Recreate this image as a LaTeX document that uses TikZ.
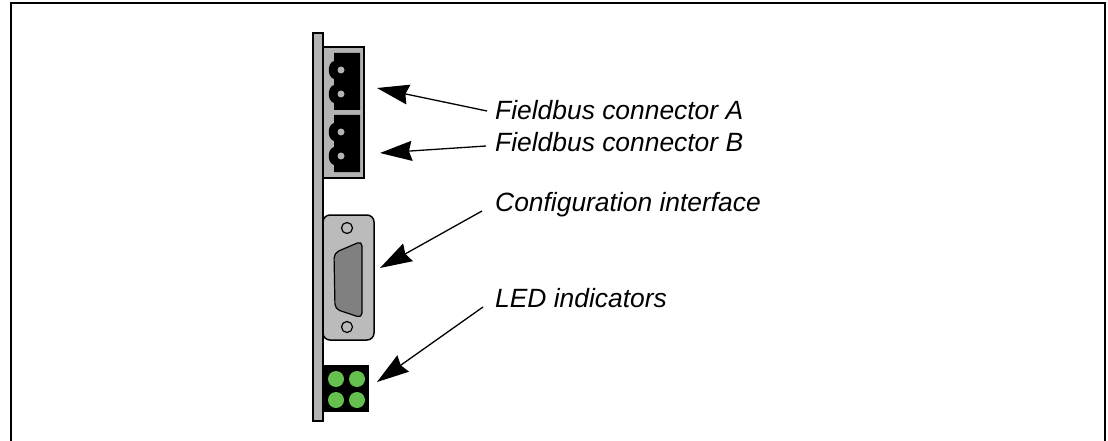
\documentclass[tikz,border=0pt]{standalone}
\usepackage{fontspec}
\setmainfont{Liberation Sans}
\usetikzlibrary{arrows.meta}
\definecolor{ledgreen}{HTML}{66C04F}
\definecolor{panelgray}{HTML}{B3B3B3}
\definecolor{dsubgray}{HTML}{808080}
\begin{document}
\begin{tikzpicture}[x=1pt,y=-1pt,
  outline/.style={draw=black,line width=1.5pt},
  label/.style={font=\fontsize{26.4}{30}\selectfont\itshape,anchor=base west,inner sep=0pt},
  callout/.style={line width=1.3pt,-{Stealth[length=32pt,width=20pt,inset=3pt]}},
  plug/.pic={
    \fill[black] (1,0) -- (27,0) -- (27,57) -- (1,57) -- (1,50)
      .. controls (-6,48) and (-6,34) .. (1,32) -- (1,26)
      .. controls (-6,24) and (-6,10) .. (1,8) -- cycle;
    \fill[panelgray] (8,17) circle[radius=3.5] (8,41) circle[radius=3.5];
  }]
\useasboundingbox (0,0) rectangle (1108,441);
% open frame
\draw[line width=2pt] (11,441) -- (11,3) -- (1105,3) -- (1105,441);

% front panel strip
\draw[outline,fill=panelgray] (313,33) rectangle (323,421);

% fieldbus connector housing with two plugs
\draw[outline,fill=panelgray] (323,47) rectangle (364,178);
\pic at (333,53) {plug};
\pic at (333,115) {plug};

% configuration D-sub plate
\draw[outline,fill=panelgray!90!white,rounded corners=7pt] (323,215) rectangle (374,340);
\draw[line width=1.2pt,fill=panelgray!90!white] (347,228) circle[radius=5.5];
\draw[line width=1.2pt,fill=panelgray!90!white] (347,327) circle[radius=5.5];
\draw[line width=1.2pt,fill=dsubgray,rounded corners=5pt]
  (362,241) -- (362,318) -- (335,309) -- (334,253) -- cycle;

% LED block
\fill[black] (323,365) rectangle (369,412);
\foreach \cx/\cy in {336/379,357/379,336/400,357/400}
  \fill[ledgreen] (\cx,\cy) circle[radius=8];

% callout targets
\coordinate (pA) at (377,88);
\coordinate (pB) at (380,153);
\coordinate (pC) at (380,268);
\coordinate (pL) at (377,382);

% labels
\node[label] (txtA) at (495,120) {Fieldbus connector A};
\node[label] (txtB) at (495,151) {Fieldbus connector B};
\node[label] (txtC) at (495,211) {Configuration interface};
\node[label] (txtL) at (495,307) {LED indicators};

\coordinate (sA) at ([xshift=-8pt,yshift=9pt]txtA.base west);
\coordinate (sB) at ([xshift=-9pt,yshift=5pt]txtB.base west);
\coordinate (sC) at ([xshift=-13pt]txtC.base west);
\coordinate (sL) at ([xshift=-12pt]txtL.base west);

\draw[callout] (sA) -- (pA);
\draw[callout] (sB) -- (pB);
\draw[callout] (sC) -- (pC);
\draw[callout] (sL) -- (pL);
\end{tikzpicture}
\end{document}
